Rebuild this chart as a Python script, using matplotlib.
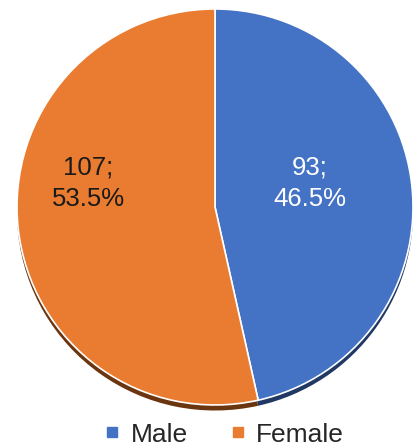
import matplotlib as mpl
import matplotlib.pyplot as plt
from matplotlib.lines import Line2D

mpl.use("Agg")

categories = ["Male", "Female"]
counts = [93, 107]
percents = [46.5, 53.5]
colors = ["#4472C4", "#E97C30"]
shadow_colors = ["#1F3864", "#6B3510"]
label_colors = ["white", "#1a1a1a"]

plt.rcParams.update({"font.family": ["Liberation Sans", "DejaVu Sans"]})

W, H = 414, 448
fig = plt.figure(figsize=(W / 100, H / 100), dpi=100)

cx, cy, r = 215, 205, 198
ax = fig.add_axes([(cx - r) / W, (H - cy - r) / H, 2 * r / W, 2 * r / H])

# shadow under the pie
ax.pie(
    counts,
    colors=shadow_colors,
    startangle=90,
    counterclock=False,
    center=(0, -0.028),
    wedgeprops={"linewidth": 0},
)
ax.pie(
    counts,
    colors=colors,
    startangle=90,
    counterclock=False,
    wedgeprops={"edgecolor": "white", "linewidth": 1.2},
)
ax.set_xlim(-1, 1)
ax.set_ylim(-0.99, 1.01)
ax.axis("off")

# label positions (axes fraction), Excel-style
label_pos = [(0.74, 0.555), (0.18, 0.555)]
for n, p, (x, y), c in zip(counts, percents, label_pos, label_colors):
    ax.text(
        x, y, f"{n};\n{p}%",
        transform=ax.transAxes,
        ha="center", va="center",
        fontsize=18.5, color=c, linespacing=1.35,
    )

handles = [
    Line2D([], [], marker="s", linestyle="none", color=c, markersize=6.5)
    for c in colors
]
fig.legend(
    handles, categories,
    loc="center", bbox_to_anchor=(0.535, 0.03),
    ncol=2, frameon=False, fontsize=19,
    handletextpad=0.2, columnspacing=1.4, handlelength=1.0,
    labelcolor="#262626",
)

fig.savefig("out.png", dpi=100)
plt.close()
